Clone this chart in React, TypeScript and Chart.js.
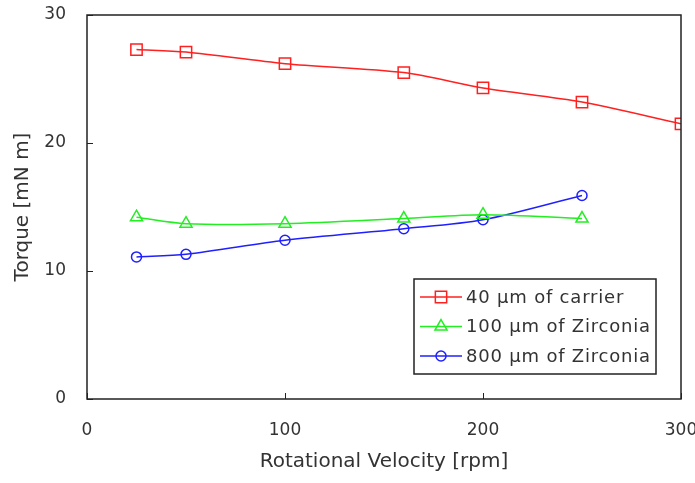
import React, { useEffect, useRef } from "react";
import { Chart, registerables } from "chart.js";

Chart.register(...registerables);

const carrierX = [25, 50, 100, 160, 200, 250, 300];
const carrierY = [27.3, 27.1, 26.2, 25.5, 24.3, 23.2, 21.5];
const zirc100X = [25, 50, 100, 160, 200, 250];
const zirc100Y = [14.2, 13.7, 13.7, 14.1, 14.4, 14.1];
const zirc800X = [25, 50, 100, 160, 200, 250];
const zirc800Y = [11.1, 11.3, 12.4, 13.3, 14.0, 15.9];

const seriesLabels = ["40 μm of carrier", "100 μm of Zirconia", "800 μm of Zirconia"];
const xTicks = [0, 100, 200, 300];
const yTicks = [0, 10, 20, 30];

const FONT = "'DejaVu Sans', sans-serif";
const TEXT_COLOR = "#333";

const toPoints = (xs: number[], ys: number[]) => xs.map((x, i) => ({ x, y: ys[i] }));

function drawMarker(ctx: CanvasRenderingContext2D, ds: any, x: number, y: number) {
  ctx.save();
  ctx.strokeStyle = ds.pointBorderColor;
  ctx.lineWidth = ds.pointBorderWidth;
  const r = ds.pointRadius;
  ctx.beginPath();
  if (ds.pointStyle === "rect") {
    const s = Math.SQRT1_2 * r;
    ctx.rect(x - s, y - s, 2 * s, 2 * s);
  } else if (ds.pointStyle === "triangle") {
    const a = -Math.PI / 2;
    for (let k = 0; k < 3; k++) {
      const ang = a + (k * 2 * Math.PI) / 3;
      const px = x + Math.cos(ang) * r;
      const py = y + Math.sin(ang) * r;
      if (k === 0) ctx.moveTo(px, py);
      else ctx.lineTo(px, py);
    }
    ctx.closePath();
  } else {
    ctx.arc(x, y, r, 0, Math.PI * 2);
  }
  ctx.stroke();
  ctx.restore();
}

const framePlugin = {
  id: "frame",
  afterDraw(chart: any) {
    const { ctx, chartArea, scales } = chart;
    const { left, right, top, bottom } = chartArea;
    ctx.save();
    ctx.strokeStyle = "#222";
    ctx.lineWidth = 1.5;
    ctx.strokeRect(left, top, right - left, bottom - top);
    ctx.lineWidth = 1;
    ctx.beginPath();
    yTicks.forEach((v) => {
      const y = Math.round(scales.y.getPixelForValue(v)) + 0.5;
      ctx.moveTo(left, y);
      ctx.lineTo(left + 6, y);
    });
    xTicks.forEach((v) => {
      const x = Math.round(scales.x.getPixelForValue(v)) + 0.5;
      ctx.moveTo(x, bottom);
      ctx.lineTo(x, bottom - 6);
    });
    ctx.stroke();

    // legend
    const lx = 414, ly = 279, lw = 242, lh = 95;
    ctx.fillStyle = "#fff";
    ctx.fillRect(lx, ly, lw, lh);
    ctx.strokeStyle = "#222";
    ctx.lineWidth = 1.5;
    ctx.strokeRect(lx, ly, lw, lh);
    chart.data.datasets.forEach((ds: any, i: number) => {
      const cy = ly + 18 + i * 29.5;
      ctx.strokeStyle = ds.borderColor;
      ctx.lineWidth = 1.5;
      ctx.beginPath();
      ctx.moveTo(lx + 6, cy);
      ctx.lineTo(lx + 48, cy);
      ctx.stroke();
      drawMarker(ctx, ds, lx + 27, cy);
      ctx.fillStyle = TEXT_COLOR;
      ctx.font = `18px ${FONT}`;
      (ctx as any).letterSpacing = "0.8px";
      ctx.textBaseline = "middle";
      ctx.textAlign = "left";
      ctx.fillText(ds.label, lx + 52, cy + 1);
      (ctx as any).letterSpacing = "0px";
    });
    ctx.restore();
  },
};

export default function App() {
  const ref = useRef<HTMLCanvasElement>(null);
  useEffect(() => {
    if (!ref.current) return;
    const common = {
      borderWidth: 1.5,
      pointBackgroundColor: "rgba(0,0,0,0)",
      pointBorderWidth: 1.5,
      tension: 0.3,
      fill: false,
      showLine: true,
    };
    const chart = new Chart(ref.current, {
      type: "scatter",
      data: {
        datasets: [
          {
            ...common,
            label: seriesLabels[0],
            data: toPoints(carrierX, carrierY),
            borderColor: "#ff2020",
            pointBorderColor: "#ff2020",
            pointStyle: "rect",
            pointRadius: 8,
          },
          {
            ...common,
            label: seriesLabels[1],
            data: toPoints(zirc100X, zirc100Y),
            borderColor: "#22ee22",
            pointBorderColor: "#22ee22",
            pointStyle: "triangle",
            pointRadius: 7,
          },
          {
            ...common,
            label: seriesLabels[2],
            data: toPoints(zirc800X, zirc800Y),
            borderColor: "#2020ff",
            pointBorderColor: "#2020ff",
            pointStyle: "circle",
            pointRadius: 5,
          },
        ],
      },
      options: {
        animation: false,
        responsive: false,
        devicePixelRatio: 1,
        layout: { padding: { top: 15, right: 14, left: 0, bottom: 0 } },
        plugins: { legend: { display: false }, tooltip: { enabled: false } },
        scales: {
          x: {
            type: "linear",
            min: 0,
            max: 300,
            afterBuildTicks: (s: any) => {
              s.ticks = xTicks.map((v) => ({ value: v }));
            },
            afterFit: (s: any) => {
              s.height = 84;
              s.paddingLeft = 0;
              s.paddingRight = 0;
            },
            grid: { display: false, drawTicks: false },
            border: { display: false },
            ticks: { color: TEXT_COLOR, font: { family: FONT, size: 17 }, padding: 21, maxRotation: 0 },
            title: {
              display: true,
              text: "Rotational Velocity [rpm]",
              color: TEXT_COLOR,
              font: { family: FONT, size: 20 },
              padding: { top: 0, bottom: 9 },
            },
          },
          y: {
            type: "linear",
            min: 0,
            max: 30,
            afterBuildTicks: (s: any) => {
              s.ticks = yTicks.map((v) => ({ value: v }));
            },
            afterFit: (s: any) => {
              s.width = 87;
              s.paddingTop = 0;
              s.paddingBottom = 0;
            },
            grid: { display: false, drawTicks: false },
            border: { display: false },
            ticks: { color: TEXT_COLOR, font: { family: FONT, size: 17 }, padding: 21 },
            title: {
              display: true,
              text: "Torque [mN m]",
              color: TEXT_COLOR,
              font: { family: FONT, size: 20 },
              padding: { top: 11, bottom: 0 },
            },
          },
        },
      },
      plugins: [framePlugin],
    } as any);
    return () => chart.destroy();
  }, []);
  return (
    <div style={{ position: "fixed", left: 0, top: 0, width: 695, height: 483, background: "#fff" }}>
      <canvas ref={ref} width={695} height={483} />
    </div>
  );
}
